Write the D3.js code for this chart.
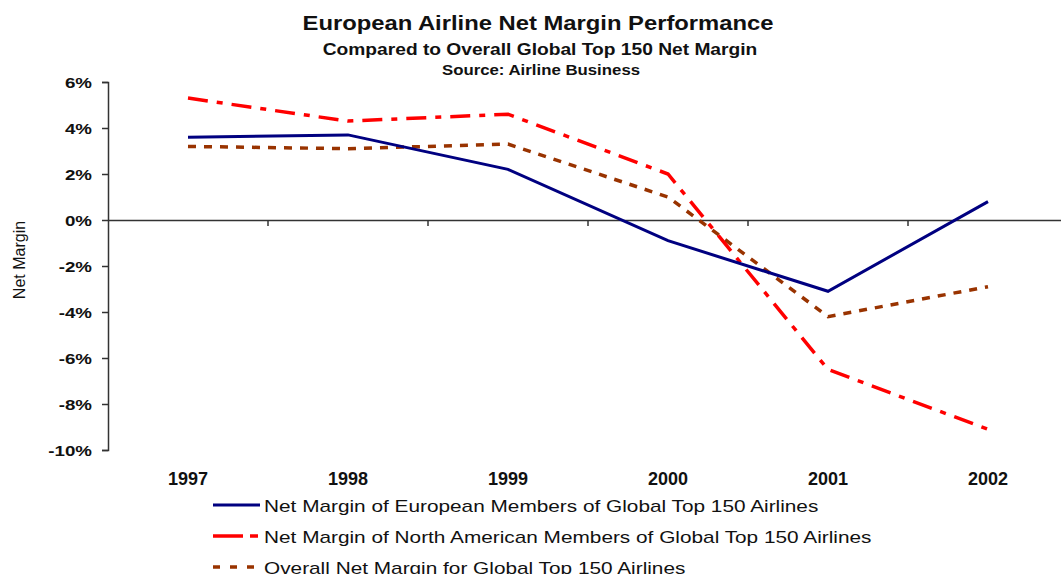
<!DOCTYPE html>
<html>
<head>
<meta charset="utf-8">
<script src="https://cdn.jsdelivr.net/npm/d3@7"></script>
<style>
  body { margin: 0; background: #fff; }
  svg { font-family: "Liberation Sans", Arial, sans-serif; }
</style>
</head>
<body>
<div id="chart"></div>
<script>
// data
var years = ["1997", "1998", "1999", "2000", "2001", "2002"];
var european = [3.6, 3.7, 2.2, -0.9, -3.1, 0.8];
var northAmerican = [5.3, 4.3, 4.6, 2.0, -6.5, -9.1];
var overall = [3.2, 3.1, 3.3, 1.0, -4.2, -2.9];
var yTicks = [6, 4, 2, 0, -2, -4, -6, -8, -10];

var seriesNames = [
  "Net Margin of European Members of Global Top 150 Airlines",
  "Net Margin of North American Members of Global Top 150 Airlines",
  "Overall Net Margin for Global Top 150 Airlines"
];

var W = 1061, H = 574;
var margin = {top: 82, left: 108};
var plotH = 368;

var svg = d3.select("#chart").append("svg")
    .attr("width", W)
    .attr("height", H);

// the reference text is stretched sideways, so scale x only
function wideText(parent, px, py, sx, txt) {
  return parent.append("text")
    .attr("transform", "translate(" + px + "," + py + ") scale(" + sx + ",1)")
    .text(txt);
}

// titles
wideText(svg, 538, 30, 1.19, "European Airline Net Margin Performance")
  .attr("text-anchor", "middle").style("font-size", "20px").style("font-weight", "bold").attr("fill", "#111");
wideText(svg, 540, 55, 1.2, "Compared to Overall Global Top 150 Net Margin")
  .attr("text-anchor", "middle").style("font-size", "16px").style("font-weight", "bold").attr("fill", "#111");
wideText(svg, 541, 75, 1.2, "Source: Airline Business")
  .attr("text-anchor", "middle").style("font-size", "14px").style("font-weight", "bold").attr("fill", "#111");

var g = svg.append("g")
  .attr("transform", "translate(" + margin.left + "," + margin.top + ")");

var x = d3.scaleBand().domain(years).range([0, 960]);
var y = d3.scaleLinear().domain([-10, 6]).range([plotH, 0]);

// y axis
var yAxis = d3.axisLeft(y).tickValues(yTicks).tickSize(6).tickFormat("");
var yg = g.append("g").call(yAxis);
yg.select(".domain").attr("stroke", "#333").attr("stroke-width", 1.5);
yg.selectAll(".tick line").attr("stroke", "#333").attr("stroke-width", 1.5);
yg.selectAll(".tick").each(function(d) {
  wideText(d3.select(this), -16, 5, 1.25, d + "%")
    .attr("text-anchor", "end")
    .style("font-size", "15px").style("font-weight", "bold").attr("fill", "#111")
    .style("font-family", "Liberation Sans, Arial, sans-serif");
});

// x axis along the zero line
var xg = g.append("g").attr("transform", "translate(0," + y(0) + ")")
  .call(d3.axisBottom(x).tickSize(0).tickFormat(""));
xg.select(".domain").attr("stroke", "#333").attr("stroke-width", 1.5);
xg.selectAll(".sep").data(years.slice(1)).enter().append("line")
  .attr("x1", function(d) { return x(d); }).attr("x2", function(d) { return x(d); })
  .attr("y1", 0).attr("y2", 6).attr("stroke", "#333").attr("stroke-width", 1.5);

// category labels below plot
g.selectAll(".yr").data(years).enter().append("text")
  .attr("x", function(d) { return x(d) + x.bandwidth() / 2; })
  .attr("y", plotH + 35)
  .attr("text-anchor", "middle")
  .style("font-size", "18px").style("font-weight", "bold").attr("fill", "#111")
  .text(function(d) { return d; });

// y label
svg.append("text")
  .attr("transform", "translate(25,260) rotate(-90)")
  .attr("text-anchor", "middle").style("font-size", "16px").attr("fill", "#111")
  .text("Net Margin");

var styles = [
  {color: "#000080", dash: null, width: 3},
  {color: "#ff0000", dash: "20,9,6,9", width: 3.5},
  {color: "#993300", dash: "8,8", width: 3.5}
];
var allSeries = [european, northAmerican, overall];

var line = d3.line()
  .x(function(d, i) { return x(years[i]) + x.bandwidth() / 2; })
  .y(function(d) { return y(d); });

// draw in order overall, N. America, European on top
[2, 1, 0].forEach(function(k) {
  g.append("path")
    .datum(allSeries[k])
    .attr("fill", "none")
    .attr("stroke", styles[k].color)
    .attr("stroke-width", styles[k].width)
    .attr("stroke-dasharray", styles[k].dash)
    .attr("d", line);
});

// legend
var legDash = [null, "30,7,8,20", "7,10"];
var leg = svg.append("g").attr("transform", "translate(213,505)");
seriesNames.forEach(function(name, k) {
  var row = leg.append("g").attr("transform", "translate(0," + (k * 31) + ")");
  row.append("line").attr("x1", 0).attr("x2", 47).attr("y1", 0).attr("y2", 0)
    .attr("stroke", styles[k].color).attr("stroke-width", styles[k].width)
    .attr("stroke-dasharray", legDash[k]);
  wideText(row, 51, 7, 1.3, name)
    .style("font-size", "16px").attr("fill", "#111");
});
</script>
</body>
</html>
